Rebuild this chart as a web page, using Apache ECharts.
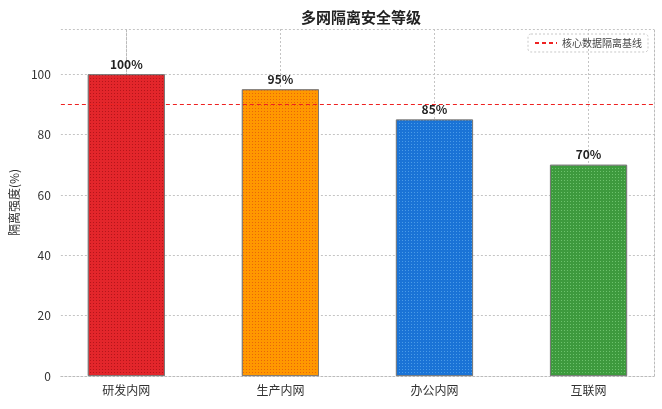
<!DOCTYPE html>
<html>
<head>
<meta charset="utf-8">
<script src="https://cdn.jsdelivr.net/npm/echarts@6/dist/echarts.min.js"></script>
<style>
html,body{margin:0;padding:0;background:#fff;}
#chart{width:662px;height:409px;}
</style>
</head>
<body>
<div id="chart"></div>
<script>
var categories = ['研发内网', '生产内网', '办公内网', '互联网'];
var values = [100, 95, 85, 70];
var barColors = ['#e3262b', '#ff9800', '#1a73d6', '#3d9a3d'];
var dotColors = ['#b5151a', '#e8650a', '#4a9be8', '#6cc26c'];
var baseline = 90;
var baselineName = '核心数据隔离基线';
var yTicks = [0, 20, 40, 60, 80, 100];

var chart = echarts.init(document.getElementById('chart'));
var font = '"Noto Sans CJK SC", "DejaVu Sans", sans-serif';
var catIdx = [];
var barData = [];
for (var i = 0; i < values.length; i++) {
	catIdx.push(i);
	barData.push({
		value: [i, values[i]],
		itemStyle: {
			color: barColors[i],
			borderColor: '#777',
			borderWidth: 0.8,
			decal: {
				symbol: 'rect',
				symbolSize: 1,
				dashArrayX: [1, 2],
				dashArrayY: [1, 2],
				color: dotColors[i]
			}
		}
	});
}
var gridLine = { show: true, lineStyle: { color: '#c4c4c4', type: [2, 2], width: 1 } };
var option = {
	textStyle: { fontFamily: font },
	title: {
		text: '多网隔离安全等级',
		left: 356,
		textAlign: 'center',
		top: 5,
		textStyle: { fontSize: 15, fontWeight: 'bold', color: '#222', fontFamily: font }
	},
	legend: {
		right: 14,
		top: 34,
		data: [{ name: baselineName, itemStyle: { opacity: 0 } }],
		itemWidth: 22,
		itemHeight: 8,
		borderColor: '#c8c8c8',
		borderWidth: 1,
		borderType: [2, 2],
		borderRadius: 3,
		padding: [4, 6, 4, 6],
		textStyle: { fontSize: 10, color: '#444', fontFamily: font }
	},
	grid: { left: 59, right: 8, top: 29, bottom: 33 },
	xAxis: {
		type: 'value',
		min: -0.425,
		max: 3.425,
		axisLine: { show: true, onZero: false, lineStyle: { color: '#bbb', type: [2, 2] } },
		axisTick: { show: false, customValues: catIdx },
		axisLabel: {
			customValues: catIdx,
			formatter: function (v) { return categories[Math.round(v)]; },
			fontSize: 12, color: '#333', margin: 8
		},
		splitLine: gridLine
	},
	yAxis: [{
		type: 'value',
		min: 0,
		max: 115,
		interval: 20,
		name: '隔离强度(%)',
		nameLocation: 'middle',
		nameGap: 37,
		nameTextStyle: { fontSize: 12, color: '#333' },
		axisLine: { show: true, lineStyle: { color: '#bbb', type: [2, 2] } },
		axisTick: { show: false },
		axisLabel: {
			fontSize: 12, color: '#333', margin: 10,
			formatter: function (v) { return yTicks.indexOf(v) >= 0 ? String(v) : ''; }
		},
		splitLine: gridLine
	}, {
		type: 'value',
		position: 'right',
		min: 0,
		max: 115,
		axisLine: { show: true, lineStyle: { color: '#bbb', type: [2, 2] } },
		axisTick: { show: false },
		axisLabel: { show: false },
		splitLine: { show: false }
	}],
	series: [{
		type: 'bar',
		barWidth: 77,
		data: barData,
		label: {
			show: true,
			position: 'top',
			distance: 4,
			fontSize: 12,
			fontWeight: 'bold',
			color: '#222',
			formatter: function (p) { return p.value[1] + '%'; }
		}
	}, {
		name: baselineName,
		type: 'line',
		data: [],
		symbol: 'none',
		itemStyle: { color: '#ee2222' },
		lineStyle: { color: '#ee2222', type: [4, 3], width: 1 },
		markLine: {
			silent: true,
			symbol: 'none',
			label: { show: false },
			lineStyle: { color: '#ee2222', type: [4, 3], width: 1 },
			data: [{ yAxis: baseline }]
		}
	}]
};
chart.setOption(option);
</script>
</body>
</html>
